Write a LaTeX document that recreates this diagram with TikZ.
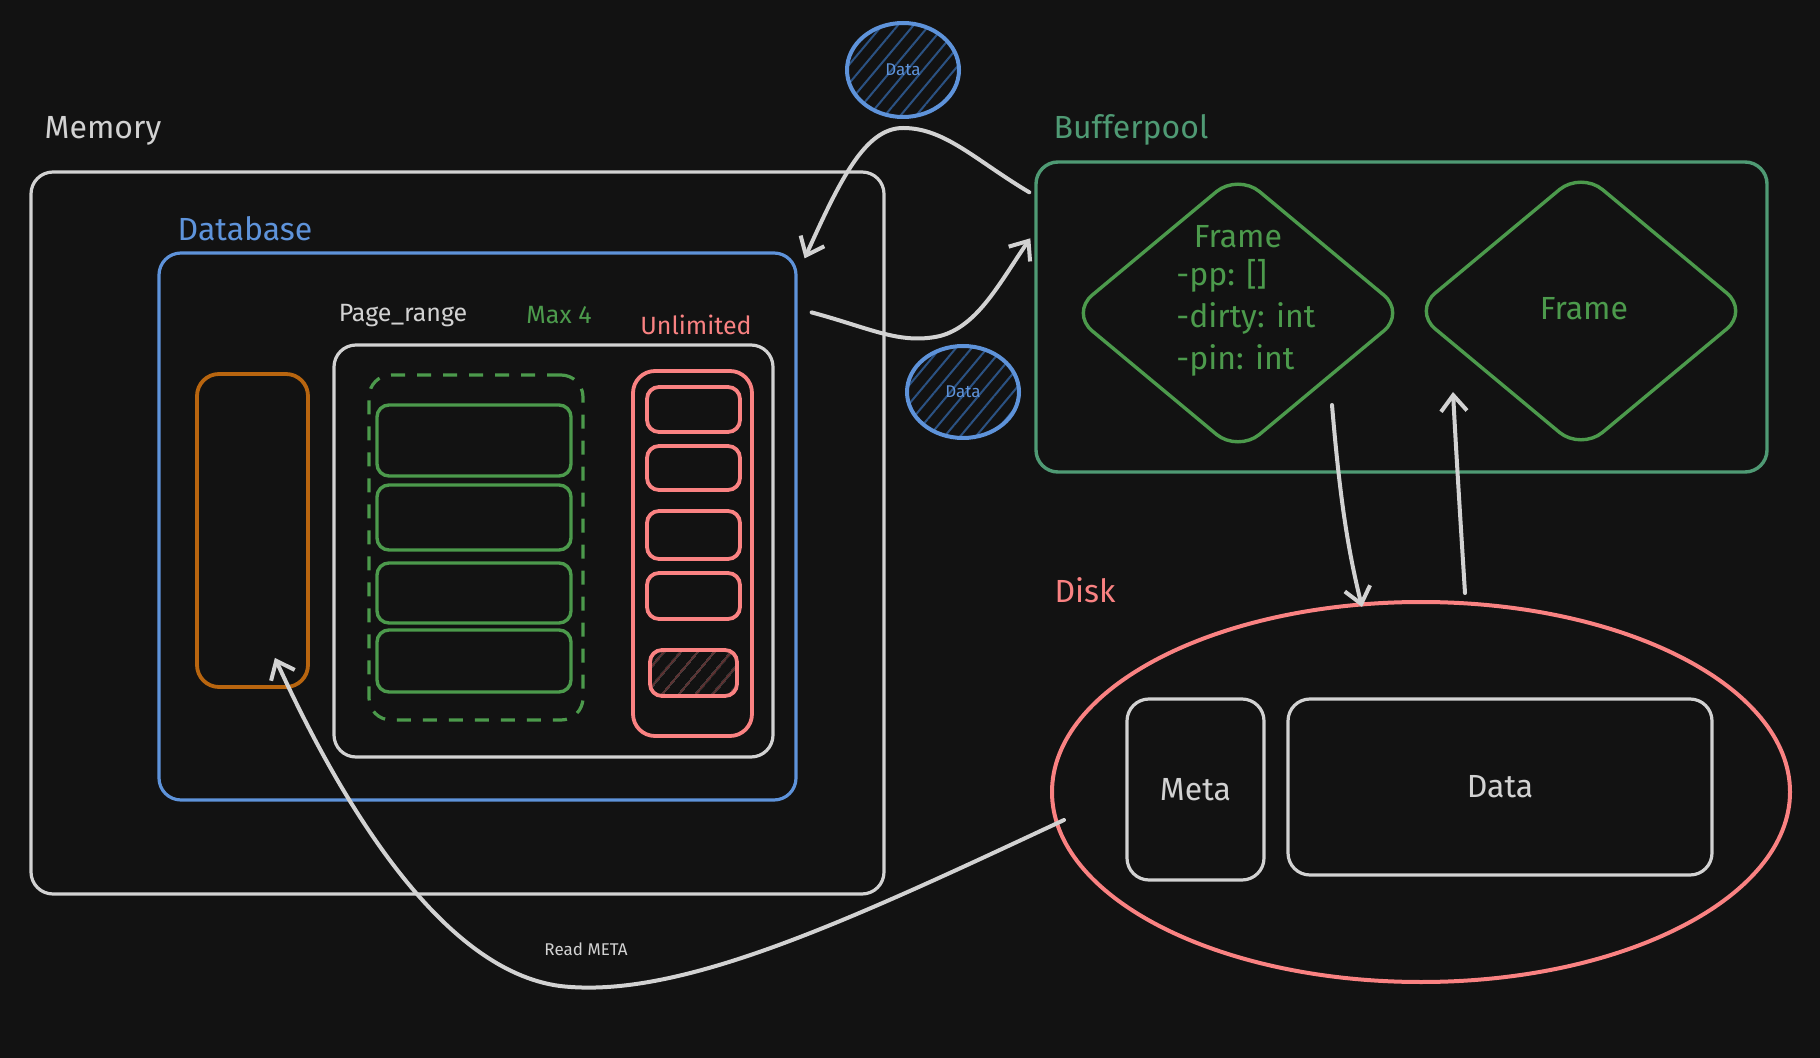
\documentclass[tikz,border=0pt]{standalone}
\usepackage{fontspec}
\setmainfont{Fira Sans}
\usetikzlibrary{fit,shapes.geometric,patterns.meta,arrows.meta,calc}
\definecolor{bg}{HTML}{121212}
\definecolor{ink}{HTML}{D2D2D2}
\definecolor{dbblue}{HTML}{5E93DA}
\definecolor{hatchblue}{HTML}{2B5283}
\definecolor{leaf}{HTML}{4C9A4C}
\definecolor{teal}{HTML}{4F9A74}
\definecolor{salmon}{HTML}{FA8282}
\definecolor{hatchred}{HTML}{6A3838}
\definecolor{amber}{HTML}{B8650F}
\begin{document}
\begin{tikzpicture}[x=0.5pt,y=-0.5pt,
  panel/.style={draw=#1, line width=1.6pt, rounded corners=11pt, inner sep=0pt},
  slot/.style={draw=#1, line width=1.7pt, rounded corners=6pt, inner sep=0pt},
  lbl/.style={text=#1, inner sep=1pt},
  big/.style={font=\fontsize{16}{19}\selectfont},
  mid/.style={font=\fontsize{12.5}{15}\selectfont},
  tiny/.style={font=\fontsize{8.5}{10}\selectfont},
  flow/.style={draw=ink, line width=2pt, line cap=round, -{Straight Barb[length=8pt,width=13pt,line width=2pt]}},
  blob/.style={ellipse, draw=dbblue, line width=2pt, inner sep=0pt,
    pattern={Lines[angle=50,distance=6pt,line width=1pt]}, pattern color=hatchblue},
  frame/.style={diamond, draw=leaf, line width=1.7pt, rounded corners=14pt, inner sep=0pt}
]
\fill[bg] (0,0) rectangle (1820,1058);
\useasboundingbox (0,0) rectangle (1820,1058);

% ---- memory side ----
\node[panel=ink, fit={(31,172) (884,894)}] (memory) {};
\node[lbl=ink, big] (memlbl) at (103,131) {Memory};

\node[panel=dbblue, fit={(159,253) (796,800)}] (db) {};
\node[lbl=dbblue, big] (dblbl) at (245,229) {Database};

\node[lbl=ink, mid] (prlbl) at (403,316) {Page\_range};
\node[lbl=leaf, mid] (maxlbl) at (559,315) {Max 4};
\node[lbl=salmon, mid] (unllbl) at (696,325) {Unlimited};

\node[panel=ink, fit={(334,345) (773,757)}] (pagerange) {};
\node[panel=amber, line width=1.9pt, fit={(197,374) (308,687)}] (meta) {};

% bounded pages
\node[panel=leaf, dashed, dash pattern=on 7pt off 6pt, fit={(369,375) (583,720)}] (bounded) {};
\node[slot=leaf, fit={(377,405) (571,476)}] (b1) {};
\node[slot=leaf, fit={(377,485) (571,550)}] (b2) {};
\node[slot=leaf, fit={(377,563) (571,623)}] (b3) {};
\node[slot=leaf, fit={(377,630) (571,692)}] (b4) {};

% unbounded pages
\node[panel=salmon, line width=1.9pt, fit={(633,371) (752,736)}] (unbounded) {};
\node[slot=salmon, line width=1.9pt, fit={(647,387) (740,432)}] (u1) {};
\node[slot=salmon, line width=1.9pt, fit={(647,446) (740,490)}] (u2) {};
\node[slot=salmon, line width=1.9pt, fit={(647,511) (740,559)}] (u3) {};
\node[slot=salmon, line width=1.9pt, fit={(647,573) (740,619)}] (u4) {};
\node[slot=salmon, line width=1.9pt, fit={(650,650) (737,696)},
  pattern={Lines[angle=50,distance=6.5pt,line width=0.9pt]}, pattern color=hatchred] (u5) {};

% ---- data in flight ----
\node[blob, minimum width=56pt, minimum height=47pt] (din) at (903,70) {};
\node[lbl=dbblue, tiny] (dinlbl) at (903,70) {Data};
\node[blob, minimum width=56pt, minimum height=46pt] (dout) at (963,392) {};
\node[lbl=dbblue, tiny] (doutlbl) at (963,392) {Data};

% ---- bufferpool ----
\node[lbl=teal, big] (bplbl) at (1131,130) {Bufferpool};
\node[panel=teal, line width=1.7pt, fit={(1036,162) (1767,472)}] (bp) {};

\node[frame, minimum width=168pt, minimum height=140pt] (f1) at (1238,313) {};
\node[lbl=leaf, big] (f1title) at (1238,237) {Frame};
\node[lbl=leaf, big, anchor=west] (f1pp) at (1174,276) {-pp: []};
\node[lbl=leaf, big, anchor=west] (f1dirty) at (1174,318) {-dirty: int};
\node[lbl=leaf, big, anchor=west] (f1pin) at (1174,360) {-pin: int};

\node[frame, minimum width=168pt, minimum height=140pt] (f2) at (1581,311) {};
\node[lbl=leaf, big] (f2title) at (1584,309) {Frame};

% ---- disk ----
\node[lbl=salmon, big] (disklbl) at (1085,590) {Disk};
\node[ellipse, draw=salmon, line width=2pt, minimum width=369pt, minimum height=190pt, inner sep=0pt] (disk) at (1421,792) {};
\node[panel=ink, fit={(1127,699) (1264,880)}] (dmeta) {};
\node[lbl=ink, big] at (dmeta.center) (dmetalbl) {Meta};
\node[panel=ink, fit={(1288,699) (1712,875)}] (ddata) {};
\node[lbl=ink, big] at (ddata.center) (ddatalbl) {Data};

% ---- connector ends ----
\coordinate (evictfrom) at ($(bp.north west)+(-5,32)$);
\coordinate (evictto) at ($(db.north east)+(7,7)$);
\coordinate (loadfrom) at ($(db.north east)+(14,61)$);
\coordinate (loadto) at ($(bp.north west)+(-4,78)$);
\coordinate (flushfrom) at (1332,405);
\coordinate (flushto) at (1362,607);
\coordinate (fetchfrom) at (1465,593);
\coordinate (fetchto) at (1453,392);
\coordinate (readfrom) at ($(disk.west)+(14,28)$);
\coordinate (readto) at ($(meta.south east)+(-35,-31)$);

% ---- connectors ----
\draw[flow] (evictfrom) .. controls (975,160) and (945,128) .. (903,128)
  .. controls (865,128) and (840,180) .. (evictto);
\draw[flow] (loadfrom) .. controls (870,328) and (900,345) .. (940,336)
  .. controls (978,326) and (1000,282) .. (loadto);
\draw[flow] (flushfrom) .. controls (1340,500) and (1348,550) .. (flushto);
\draw[flow] (fetchfrom) .. controls (1461,530) and (1456,450) .. (fetchto);
\draw[flow] (readfrom) .. controls (850,920) and (680,1000) .. (560,986)
  .. controls (440,970) and (340,800) .. (readto);
\node[lbl=ink, tiny] (readlbl) at (586,949) {Read META};
\end{tikzpicture}
\end{document}
